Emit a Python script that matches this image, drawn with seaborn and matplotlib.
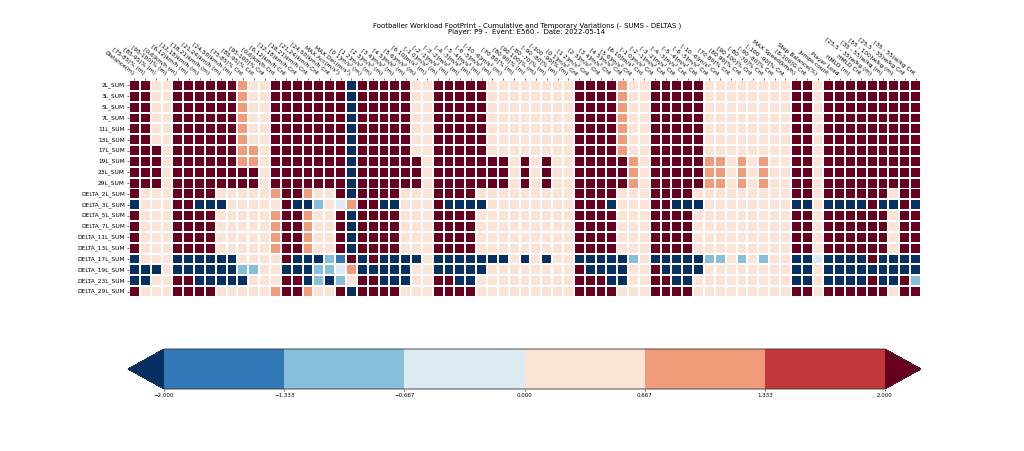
import numpy as np
import pandas as pd
import seaborn as sns
import matplotlib.pyplot as plt
from matplotlib.colors import BoundaryNorm, ListedColormap
from matplotlib.ticker import StrMethodFormatter

# cell levels
D, O, L, W, S, A, B = 3.0, 1.0, 0.3, -0.3, -1.0, -1.7, -3.0

row_labels = ['2L_SUM', '3L_SUM', '5L_SUM', '7L_SUM', '11L_SUM', '13L_SUM', '17L_SUM', '19L_SUM', '23L_SUM', '29L_SUM',
              'DELTA_2L_SUM', 'DELTA_3L_SUM', 'DELTA_5L_SUM', 'DELTA_7L_SUM', 'DELTA_11L_SUM', 'DELTA_13L_SUM',
              'DELTA_17L_SUM', 'DELTA_19L_SUM', 'DELTA_23L_SUM', 'DELTA_29L_SUM']

col_labels = ['Distance(m)', '[75-85)% (m)', '[85-95)% (m)', '[95-100]% (m)',
              '[0,6)km/h (m)', '[6,12)km/h (m)', '[12,18)km/h (m)', '[18,21)km/h (m)', '[21,24)km/h (m)', '[24,50)km/h (m)',
              '[75-85)% Cnt', '[85-95)% Cnt', '[95-100]% Cnt',
              '[0,6)km/h Cnt', '[6,12)km/h Cnt', '[12,18)km/h Cnt', '[18,21)km/h Cnt', '[21,24)km/h Cnt', '[24,50)km/h Cnt',
              'MAX Acc(m/s²)', 'MAX Dec(m/s²)',
              '[0 1]m/s² (m)', '[1 2]m/s² (m)', '[2 3]m/s² (m)', '[3 4]m/s² (m)', '[4 5]m/s² (m)', '[5 6]m/s² (m)', '[6 10]m/s² (m)',
              '[-1 0]m/s² (m)', '[-2 -1]m/s² (m)', '[-3 -2]m/s² (m)', '[-4 -3]m/s² (m)', '[-5 -4]m/s² (m)', '[-6 -5]m/s² (m)', '[-10 -6]m/s² (m)',
              '[70 80]% (m)', '[80 90]% (m)', '[90 100]% (m)', '[-80 -70]% (m)', '[-90 -80]% (m)', '[-100 -90]% (m)',
              '[0 1]m/s² Cnt', '[1 2]m/s² Cnt', '[2 3]m/s² Cnt', '[3 4]m/s² Cnt', '[4 5]m/s² Cnt', '[5 6]m/s² Cnt', '[6 10]m/s² Cnt',
              '[-1 0]m/s² Cnt', '[-2 -1]m/s² Cnt', '[-3 -2]m/s² Cnt', '[-4 -3]m/s² Cnt', '[-5 -4]m/s² Cnt', '[-6 -5]m/s² Cnt', '[-10 -6]m/s² Cnt',
              '[70 80]% Cnt', '[80 90]% Cnt', '[90 100]% Cnt', '[-80 -70]% Cnt', '[-90 -80]% Cnt', '[-100 -90]% Cnt',
              'MAX Speed(km/h)', '[8-100]G Cnt', 'Step Balance(%)', 'Jumps count', 'Player Load', 'HMLD (m)', 'HMLD Cnt',
              '[25,5 - 35)w/kg (m)', '[35 - 55)w/kg (m)', '[55 - 100]w/kg (m)', '[25,5 - 35)w/kg Cnt', '[35 - 55)w/kg Cnt']

sum_2L = [D,D,L,L, D,D,D,D,D,D, O,L,L, D,D,D,D,D,D,D, B, D,D,D,D,D, L,L, D,D,D,D,D, L,L,L,L,L,L,L,L, D,D,D,D, O,L,L, D,D,D,D,D, L,L,L,L,L,L,L,L, D,D, L, D,D,D,D,D,D,D,D,D]
sum_3L = [D,D,L,L, D,D,D,D,D,D, O,L,L, D,D,D,D,D,D,D, B, D,D,D,D,D, L,L, D,D,D,D,D, L,L,L,L,L,L,L,L, D,D,D,D, O,L,L, D,D,D,D,D, L,L,L,L,L,L,L,L, D,D, L, D,D,D,D,D,D,D,D,D]
sum_5L = [D,D,L,L, D,D,D,D,D,D, O,L,L, D,D,D,D,D,D,D, B, D,D,D,D,D, L,L, D,D,D,D,D, L,L,L,L,L,L,L,L, D,D,D,D, O,L,L, D,D,D,D,D, L,L,L,L,L,L,L,L, D,D, L, D,D,D,D,D,D,D,D,D]
sum_7L = [D,D,L,L, D,D,D,D,D,D, O,L,L, D,D,D,D,D,D,D, B, D,D,D,D,D, L,L, D,D,D,D,D, L,L,L,L,L,L,L,L, D,D,D,D, O,L,L, D,D,D,D,D, L,L,L,L,L,L,L,L, D,D, L, D,D,D,D,D,D,D,D,D]
sum_11L = [D,D,L,L, D,D,D,D,D,D, O,L,L, D,D,D,D,D,D,D, B, D,D,D,D,D, L,L, D,D,D,D,D, L,L,L,L,L,L,L,L, D,D,D,D, O,L,L, D,D,D,D,D, L,L,L,L,L,L,L,L, D,D, L, D,D,D,D,D,D,D,D,D]
sum_13L = [D,D,L,L, D,D,D,D,D,D, O,L,L, D,D,D,D,D,D,D, B, D,D,D,D,D, L,L, D,D,D,D,D, L,L,L,L,L,L,L,L, D,D,D,D, O,L,L, D,D,D,D,D, L,L,L,L,L,L,L,L, D,D, L, D,D,D,D,D,D,D,D,D]
sum_17L = [D,D,D,L, D,D,D,D,D,D, O,O,L, D,D,D,D,D,D,D, B, D,D,D,D,D, L,L, D,D,D,D,D, L,L,L,L,L,L,L,L, D,D,D,D, O,L,L, D,D,D,D,D, L,L,L,L,L,L,L,L, D,D, L, D,D,D,D,D,D,D,D,D]
sum_19L = [D,D,D,L, D,D,D,D,D,D, O,O,L, D,D,D,D,D,D,D, B, D,D,D,D,D, D,L, D,D,D,D,D, D,D,L,D,L,D,L,L, D,D,D,D, D,O,L, D,D,D,D,D, O,O,L,O,L,O,L,L, D,D, L, D,D,D,D,D,D,D,D,D]
sum_23L = [D,D,D,L, D,D,D,D,D,D, D,D,L, D,D,D,D,D,D,D, B, D,D,D,D,D, D,L, D,D,D,D,D, D,D,L,D,L,D,L,L, D,D,D,D, D,O,L, D,D,D,D,D, O,O,L,O,L,O,L,L, D,D, L, D,D,D,D,D,D,D,D,D]
sum_29L = [D,D,D,L, D,D,D,D,D,D, D,D,L, D,D,D,D,D,D,D, B, D,D,D,D,D, D,L, D,D,D,D,D, D,D,L,D,L,D,L,L, D,D,D,D, D,O,L, D,D,D,D,D, O,O,L,O,L,O,L,L, D,D, L, D,D,D,D,D,D,D,D,D]

delta_2L = [D,L,L,L, D,D,D,D, L,L,L,L,L, O, D,D, O, L,L, D, B, D,D,D,D, L,L,L, D,D,D,D, L,L,L,L,L,L,L,L,L, D,D,D,D, L,L,L, D,D,D,D, L,L,L,L,L,L,L,L,L, D,D, L, D,D,D,D,D,D, L, D,D]
delta_3L = [B,L,L,L, D,D, B,B,B, L,L,L,L,L, D, B,B, S, L, W, O, D,D, B,B, L,L,L, D, B,B,B,B, L,L,L,L,L,L,L,L, D,D,D, B, L,L,L, D,D, B,B,B, L,L,L,L,L,L,L,L, B,B, L, B,B,B,B, D, B,B, D, B]
delta_5L = [D,L,L,L, D,D,D,D, L,L,L,L,L, O, D,D, O, L,L, D, B, D,D,D,D, L,L,L, D,D,D,D, L,L,L,L,L,L,L,L,L, D,D,D,D, L,L,L, D,D,D,D, L,L,L,L,L,L,L,L,L, D,D, L, D,D,D,D,D,D, L, D,D]
delta_7L = [D,L,L,L, D,D,D,D, L,L,L,L,L, O, D,D, O, L,L, D, B, D,D,D,D, L,L,L, D,D,D,D, L,L,L,L,L,L,L,L,L, D,D,D,D, L,L,L, D,D,D,D, L,L,L,L,L,L,L,L,L, D,D, L, D,D,D,D,D,D, L, D,D]
delta_11L = [D,L,L,L, D,D,D,D, L,L,L,L,L, O, D,D, O, L,L, D, B, D,D,D,D, L,L,L, D,D,D,D, L,L,L,L,L,L,L,L,L, D,D,D,D, L,L,L, D,D,D,D, L,L,L,L,L,L,L,L,L, D,D, L, D,D,D,D,D,D, L, D,D]
delta_13L = [D,L,L,L, D,D,D,D, L,L,L,L,L, O, D,D, O, L,L, D, B, D,D,D,D, L,L,L, D,D,D,D, L,L,L,L,L,L,L,L,L, D,D,D,D, L,L,L, D,D,D,D, L,L,L,L,L,L,L,L,L, D,D, L, D,D,D,D,D,D, L, D,D]
delta_17L = [B,L,L,L, B,B,B,B,B,B, L,L,L,L, D, B,B,B, S, A, D, B, D, B,B,B,B, L, B,B,B,B,B,B,B, L, B, L, B, L,L, B,B,B,B,B, S, L, B,B,B,B,B, S,S, L, S, L, S, L,L, B,B, W, B,B,B,B, D, B,B,B,B]
delta_19L = [B,B,B,L, B,B,B,B,B,B, S,S, L,L, B,B,B, S,S, W, O, B,B, B,B,B, L,L, B,B,B,B,B, L,L,L,L,L,L,L,L, D, B,B,B,B, L,L, D, B,B,B,B, L,L,L,L,L,L,L,L, B,B, L, B,B,B,B,B,B,B,B,B]
delta_23L = [B,B,L,L, D,D, B,B,B,B,B, L,L,L, D,D, B, S, B, S, L, D,D, B,B,B, L,L, D,D, B,B, L,L,L,L,L,L,L,L,L, D,D,D, B,B, L,L, D,D, B,B, L,L,L,L,L,L,L,L,L, B,B, L, B,B,B,B, D, B,B, D, S]
delta_29L = [D,L,L,L, D,D,D,D, L,L,L,L,L, O, D,D, O, L,L, D, B, D,D,D,D, L,L,L, D,D,D,D, L,L,L,L,L,L,L,L,L, D,D,D,D, L,L,L, D,D,D,D, L,L,L,L,L,L,L,L,L, D,D, L, D,D,D,D,D,D, L, D,D]

values = np.array([sum_2L, sum_3L, sum_5L, sum_7L, sum_11L, sum_13L, sum_17L, sum_19L, sum_23L, sum_29L,
                   delta_2L, delta_3L, delta_5L, delta_7L, delta_11L, delta_13L, delta_17L, delta_19L, delta_23L, delta_29L])
df = pd.DataFrame(values, index=row_labels, columns=col_labels)

bounds = np.linspace(-2, 2, 7)
cmap = ListedColormap(plt.get_cmap('RdBu_r', 8)(np.arange(8)))
norm = BoundaryNorm(bounds, cmap.N, extend='both')

W_PX, H_PX = 1024, 451
fig = plt.figure(figsize=(W_PX / 100, H_PX / 100), dpi=100)
ax = fig.add_axes([129 / W_PX, 1 - 297 / H_PX, (921 - 129) / W_PX, (297 - 80) / H_PX])
cax = fig.add_axes([128 / W_PX, 1 - 389 / H_PX, (921 - 128) / W_PX, 40 / H_PX])

sns.heatmap(df, ax=ax, cbar_ax=cax, cmap=cmap, norm=norm, linewidths=0.72, linecolor='white', square=False,
            xticklabels=True, yticklabels=True,
            cbar_kws={'orientation': 'horizontal', 'extend': 'both', 'ticks': bounds,
                      'format': StrMethodFormatter('{x:.3f}'), 'spacing': 'uniform'})
# keep the grid gaps even, they jump between 1 and 2 px when snapped
ax.collections[0].set_snap(False)

ax.xaxis.tick_top()
ax.set_xticklabels(col_labels, rotation=-38, ha='right', fontsize=4.2)
ax.set_yticklabels(row_labels, rotation=0, fontsize=4.2)
ax.tick_params(axis='both', length=1.5, width=0.4, pad=1.5)
ax.set_title('Footballer Workload FootPrint - Cumulative and Temporary Variations (- SUMS - DELTAS )\n'
             'Player: P9 -  Event: E560 -  Date: 2022-05-14', fontsize=5.0, x=0.5025, y=1.0, pad=33, linespacing=1.05)

cb = ax.collections[0].colorbar
cb.outline.set_linewidth(0.6)
cb.outline.set_edgecolor('#333333')
cax.tick_params(labelsize=4.0, length=1.5, width=0.4, pad=1.5)

fig.savefig('out.png', dpi=100)
